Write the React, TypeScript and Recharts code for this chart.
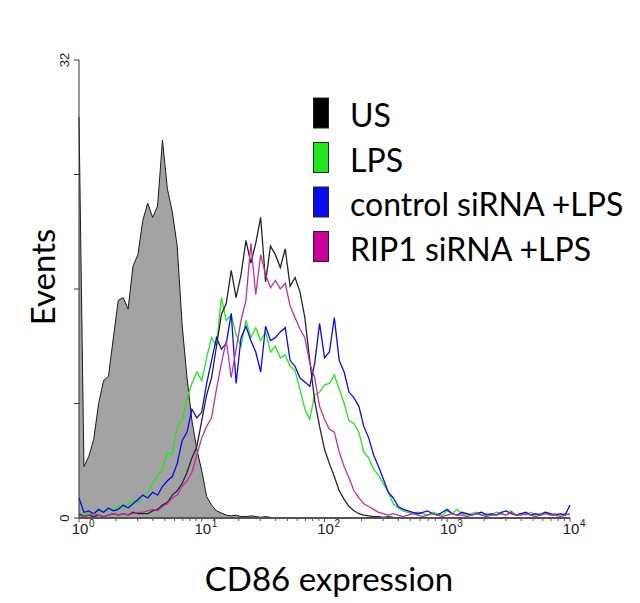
import { ComposedChart, Area, Line, XAxis, YAxis } from 'recharts';

// ── Histogram data: 25 channels per decade, 10^0 .. 10^4 (101 channels) ─────

const ISOTYPE = [
  28, 3.6, 4.3, 5.5, 8.0, 9.6, 9.9, 12.6, 15.2, 15.4,
  14.6, 17.6, 18.4, 20.8, 22.0, 21.0, 21.8, 26.4, 23.0, 21.4,
  19.0, 13.5, 9.8, 6.8, 4.8, 3.3, 1.5, 0.9, 0.5, 0.35,
  0.2, 0.15, 0.2, 0.1, 0.1, 0.15, 0.1, 0.05, 0.1, 0.05,
  0, 0, 0, 0, 0, 0, 0, 0, 0, 0,
  0, 0, 0, 0, 0, 0, 0, 0, 0, 0,
  0, 0, 0, 0, 0, 0, 0, 0, 0, 0,
  0, 0, 0, 0, 0, 0, 0, 0, 0, 0,
  0, 0, 0, 0, 0, 0, 0, 0, 0, 0,
  0, 0, 0, 0, 0, 0, 0, 0, 0, 0,
  0,
];

const US = [
  0.3, 0.1, 0.2, 0.1, 0.2, 0.1, 0.2, 0.3, 0.2, 0.3,
  0.2, 0.4, 0.3, 0.3, 0.3, 0.5, 0.6, 0.9, 1.1, 1.6,
  1.9, 2.4, 3.2, 4.2, 5.0, 6.8, 8.6, 9.8, 12.0, 14.2,
  15.0, 17.3, 15.4, 17.0, 19.4, 17.8, 19.2, 21.0, 16.5, 19.0,
  18.4, 17.5, 18.8, 16.2, 16.8, 15.8, 14.0, 11.0, 8.2, 6.4,
  4.8, 3.8, 2.9, 1.9, 1.3, 0.8, 0.5, 0.3, 0.2, 0.15,
  0.1, 0.1, 0.05, 0.1, 0.05, 0, 0.05, 0, 0, 0,
  0, 0, 0, 0, 0, 0, 0, 0, 0, 0,
  0, 0, 0, 0, 0, 0, 0, 0, 0, 0,
  0, 0, 0, 0, 0, 0, 0, 0, 0, 0,
  0,
];

const LPS = [
  0.3, 0.2, 0.4, 0.3, 0.5, 0.4, 0.6, 0.5, 0.8, 0.7,
  1.0, 1.2, 1.1, 1.6, 1.8, 2.4, 3.0, 3.4, 4.6, 4.4,
  6.4, 6.8, 8.4, 9.4, 10.2, 9.6, 11.2, 12.6, 12.0, 15.4,
  13.8, 14.2, 12.8, 12.0, 13.8, 12.6, 13.3, 12.4, 13.0, 11.6,
  12.0, 11.2, 11.4, 10.6, 10.3, 9.0, 7.6, 6.9, 8.6, 8.8,
  9.3, 9.4, 10.0, 9.0, 8.0, 6.8, 6.6, 6.0, 4.6, 4.2,
  3.4, 3.0, 2.4, 1.8, 1.0, 0.7, 0.5, 0.4, 0.3, 0.4,
  0.3, 0.2, 0.4, 0.3, 0.2, 0.5, 0.3, 0.6, 0.3, 0.2,
  0.3, 0.4, 0.2, 0.3, 0.2, 0.4, 0.3, 0.2, 0.5, 0.2,
  0.3, 0.2, 0.4, 0.2, 0.3, 0.4, 0.2, 0.3, 0.2, 0.3,
  0.2,
];

const CONTROL_SIRNA = [
  1.4, 0.4, 0.5, 0.3, 0.6, 0.4, 0.7, 0.5, 0.6, 0.9,
  0.7, 1.0, 1.3, 1.6, 1.4, 1.8, 1.6, 2.2, 2.6, 2.9,
  3.8, 5.4, 6.0, 7.6, 7.0, 7.4, 9.4, 11.0, 12.6, 11.8,
  12.2, 14.3, 9.4, 12.6, 13.4, 12.4, 11.6, 10.2, 13.4, 12.4,
  12.6, 13.0, 13.3, 11.0, 10.6, 9.8, 9.5, 9.2, 10.8, 13.6,
  11.2, 11.6, 14.0, 11.0, 10.2, 8.8, 8.4, 7.8, 6.4, 5.6,
  4.4, 3.6, 2.7, 1.8, 1.4, 0.8, 0.6, 0.5, 0.4, 0.3,
  0.4, 0.5, 0.3, 0.2, 0.4, 0.6, 0.3, 0.2, 0.4, 0.3,
  0.2, 0.3, 0.4, 0.2, 0.3, 0.2, 0.4, 0.5, 0.3, 0.2,
  0.3, 0.4, 0.2, 0.3, 0.2, 0.4, 0.3, 0.2, 0.3, 0.2,
  0.9,
];

const RIP1_SIRNA = [
  0.2, 0.1, 0.2, 0.3, 0.2, 0.1, 0.2, 0.3, 0.2, 0.3,
  0.2, 0.3, 0.4, 0.4, 0.5, 0.6, 0.5, 0.8, 1.0, 1.4,
  1.6, 2.2, 2.6, 3.2, 4.4, 5.6, 6.4, 7.0, 9.0, 10.8,
  12.4, 9.8, 11.8, 13.8, 15.2, 19.2, 15.6, 18.4, 17.0, 16.1,
  16.6, 16.0, 16.4, 14.8, 14.0, 13.2, 12.6, 10.8, 9.8, 7.8,
  6.9, 6.2, 6.0, 4.6, 3.6, 2.8, 1.9, 1.4, 1.0, 0.8,
  0.6, 0.4, 0.3, 0.2, 0.3, 0.2, 0.1, 0.2, 0.3, 0.2,
  0.1, 0.2, 0.3, 0.2, 0.1, 0.2, 0.3, 0.2, 0.2, 0.1,
  0.2, 0.3, 0.2, 0.1, 0.2, 0.2, 0.3, 0.2, 0.4, 0.2,
  0.2, 0.3, 0.2, 0.1, 0.2, 0.3, 0.2, 0.2, 0.1, 0.2,
  0.3,
];

const DECADE_EXPONENTS = ['0', '1', '2', '3', '4'];
const Y_TICKS = [0, 8, 16, 24, 32];
const Y_TICK_LABELS = ['0', '', '', '', '32'];

const LEGEND_LABELS = ['US', 'LPS', 'control siRNA +LPS', 'RIP1 siRNA +LPS'];
const LEGEND_COLOURS = ['#000000', '#1ee81e', '#0a0af0', '#cc0099'];

// ── Derived tables ────────────────────────────────────────────────────────────

const CHANNELS_PER_DECADE = 25;

const rows = ISOTYPE.map((_, i) => ({
  ch: i,
  iso: ISOTYPE[i],
  us: US[i],
  lps: LPS[i],
  ctrl: CONTROL_SIRNA[i],
  rip1: RIP1_SIRNA[i],
}));

const MAJOR_TICKS = DECADE_EXPONENTS.map((_, d) => d * CHANNELS_PER_DECADE);
const MINOR_TICKS: number[] = [];
for (let d = 0; d < DECADE_EXPONENTS.length - 1; d++) {
  for (let k = 2; k <= 9; k++) {
    MINOR_TICKS.push(d * CHANNELS_PER_DECADE + CHANNELS_PER_DECADE * Math.log10(k));
  }
}
const X_TICKS = [...MAJOR_TICKS, ...MINOR_TICKS].sort((a, b) => a - b);

// ── Tick renderers ────────────────────────────────────────────────────────────

const TICK_FONT = '"Liberation Sans", Arial, sans-serif';
const TITLE_FONT = 'Lato, "Open Sans", sans-serif';

function ChannelTick(props: any) {
  const { x, y, payload } = props;
  const major = MAJOR_TICKS.indexOf(payload.value);
  if (major < 0) {
    return <line x1={x} x2={x} y1={y} y2={y + 3} stroke="#555" strokeWidth={1} />;
  }
  return (
    <g>
      <line x1={x} x2={x} y1={y} y2={y + 4} stroke="#555" strokeWidth={1} />
      <text x={x + 1} y={y + 16} textAnchor="middle" fontSize={15} fontFamily={TICK_FONT} fill="#222">
        10
      </text>
      <text x={x + 10} y={y + 9} fontSize={10} fontFamily={TICK_FONT} fill="#222">
        {DECADE_EXPONENTS[major]}
      </text>
    </g>
  );
}

function EventsTick(props: any) {
  const { x, y, payload } = props;
  const label = Y_TICK_LABELS[Y_TICKS.indexOf(payload.value)] ?? '';
  return (
    <g>
      <line x1={x - 5} x2={x} y1={y} y2={y} stroke="#333" strokeWidth={1} />
      {label && (
        <text
          x={x - 10}
          y={y}
          transform={`rotate(-90 ${x - 10} ${y})`}
          textAnchor="middle"
          fontSize={13}
          fontFamily={TICK_FONT}
          fill="#222"
        >
          {label}
        </text>
      )}
    </g>
  );
}

// ── Component ─────────────────────────────────────────────────────────────────

export default function App() {
  return (
    <div style={{ position: 'fixed', left: 0, top: 0, width: 640, height: 603, background: '#fff' }}>
      <ComposedChart
        width={640}
        height={603}
        data={rows}
        margin={{ top: 60, right: 70, left: 0, bottom: 0 }}
      >
        <XAxis
          dataKey="ch"
          type="number"
          domain={[0, 100]}
          ticks={X_TICKS}
          interval={0}
          height={85}
          tickSize={0}
          tickMargin={0}
          tickLine={false}
          axisLine={{ stroke: '#555', strokeWidth: 2 }}
          tick={<ChannelTick />}
        />
        <YAxis
          type="number"
          domain={[0, 32]}
          ticks={Y_TICKS}
          interval={0}
          width={79}
          tickSize={0}
          tickMargin={0}
          tickLine={false}
          axisLine={{ stroke: '#333', strokeWidth: 1 }}
          tick={<EventsTick />}
        />

        <Area
          dataKey="iso"
          type="linear"
          fill="#a3a3a3"
          fillOpacity={1}
          stroke="#1a1a1a"
          strokeWidth={1}
          dot={false}
          activeDot={false}
          isAnimationActive={false}
        />
        <Line dataKey="lps" type="linear" stroke={LEGEND_COLOURS[1]} strokeWidth={1.3} dot={false} activeDot={false} isAnimationActive={false} />
        <Line dataKey="ctrl" type="linear" stroke={LEGEND_COLOURS[2]} strokeWidth={1.3} dot={false} activeDot={false} isAnimationActive={false} />
        <Line dataKey="us" type="linear" stroke="#262626" strokeWidth={1.3} dot={false} activeDot={false} isAnimationActive={false} />
        <Line dataKey="rip1" type="linear" stroke="#c0309e" strokeWidth={1.3} dot={false} activeDot={false} isAnimationActive={false} />
      </ComposedChart>

      <svg
        width={640}
        height={603}
        style={{ position: 'absolute', left: 0, top: 0, pointerEvents: 'none' }}
      >
        <text
          x={55}
          y={277}
          transform="rotate(-90 55 277)"
          textAnchor="middle"
          fontSize={33}
          fontFamily={TITLE_FONT}
          fill="#000"
        >
          Events
        </text>
        <text x={329} y={591} textAnchor="middle" fontSize={33} fontFamily={TITLE_FONT} fill="#000">
          CD86 expression
        </text>

        {LEGEND_LABELS.map((label, i) => {
          const baseline = 127 + i * 44.5;
          return (
            <g key={label}>
              <rect
                x={313.5}
                y={baseline - 29}
                width={15}
                height={30}
                fill={LEGEND_COLOURS[i]}
                stroke="#222"
                strokeWidth={1}
              />
              <text x={350} y={baseline} fontSize={32} fontFamily={TITLE_FONT} fill="#000">
                {label}
              </text>
            </g>
          );
        })}
      </svg>
    </div>
  );
}
